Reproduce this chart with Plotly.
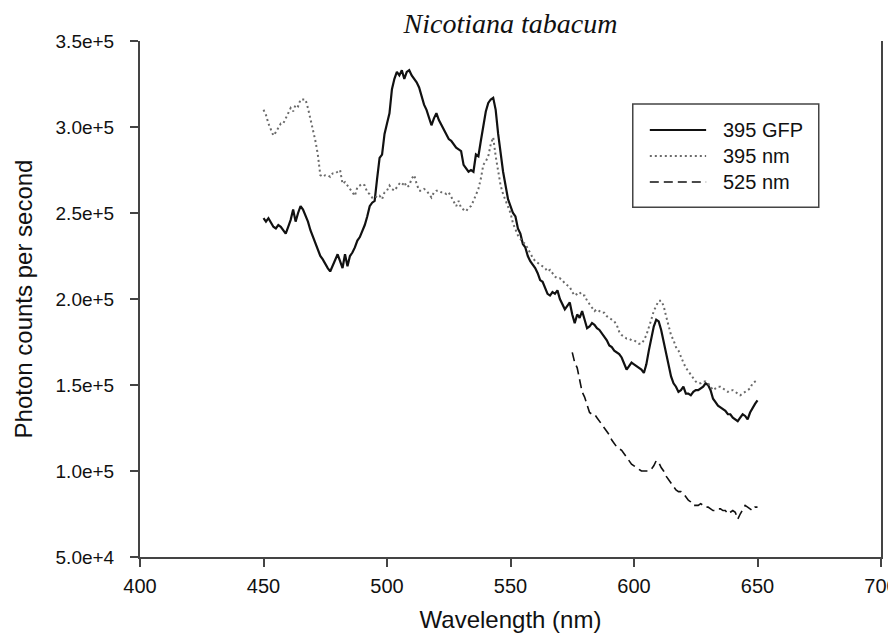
import plotly.graph_objects as go

# Wavelength grid (nm) of the two 395 nm excitation scans
wl_395 = [
    450, 451, 452, 453, 454, 455, 456, 457, 458, 459,
    460, 461, 462, 463, 464, 465, 466, 467, 468, 469,
    470, 471, 472, 473, 474, 475, 476, 477, 478, 479,
    480, 481, 482, 483, 484, 485, 486, 487, 488, 489,
    490, 491, 492, 493, 494, 495, 496, 497, 498, 499,
    500, 501, 502, 503, 504, 505, 506, 507, 508, 509,
    510, 511, 512, 513, 514, 515, 516, 517, 518, 519,
    520, 521, 522, 523, 524, 525, 526, 527, 528, 529,
    530, 531, 532, 533, 534, 535, 536, 537, 538, 539,
    540, 541, 542, 543, 544, 545, 546, 547, 548, 549,
    550, 551, 552, 553, 554, 555, 556, 557, 558, 559,
    560, 561, 562, 563, 564, 565, 566, 567, 568, 569,
    570, 571, 572, 573, 574, 575, 576, 577, 578, 579,
    580, 581, 582, 583, 584, 585, 586, 587, 588, 589,
    590, 591, 592, 593, 594, 595, 596, 597, 598, 599,
    600, 601, 602, 603, 604, 605, 606, 607, 608, 609,
    610, 611, 612, 613, 614, 615, 616, 617, 618, 619,
    620, 621, 622, 623, 624, 625, 626, 627, 628, 629,
    630, 631, 632, 633, 634, 635, 636, 637, 638, 639,
    640, 641, 642, 643, 644, 645, 646, 647, 648, 649,
    650,
]

# photon counts per second, in thousands
gfp_395_k = [
    247, 245, 247, 244, 242, 241, 243, 242, 240, 238,
    242, 246, 252, 245, 250, 254, 252, 249, 245, 240,
    236, 233, 228, 225, 223, 220, 218, 216, 219, 222,
    226, 222, 218, 226, 219, 225, 227, 230, 234, 236,
    239, 243, 248, 254, 256, 257, 270, 282, 284, 296,
    302, 308, 322, 328, 332, 330, 333, 328, 332, 333,
    330, 328, 326, 323, 318, 313, 310, 306, 301, 305,
    308, 304, 301, 299, 296, 293, 292, 290, 288, 287,
    286, 278, 276, 274, 275, 274, 284, 283, 292, 302,
    309, 314, 316, 317, 310, 296, 284, 274, 266, 258,
    254, 250, 248, 241, 238, 232, 230, 225, 222, 220,
    218, 215, 211, 210, 206, 203, 202, 204, 203, 205,
    200, 197, 194, 196, 198, 191, 186, 191, 189, 193,
    188, 183, 184, 186, 185, 183, 182, 180, 178, 176,
    173, 172, 170, 169, 168, 166, 163, 159, 161, 163,
    162, 161, 160, 159, 157, 162, 170, 177, 184, 188,
    187, 182, 175, 168, 161, 155, 151, 149, 146, 147,
    149, 145, 145, 144, 146, 147, 147, 148, 149, 151,
    150, 147, 142, 140, 138, 137, 136, 135, 133, 133,
    131, 130, 129, 131, 133, 132, 130, 134, 137, 139,
    141,
]

nm_395_k = [
    310, 307, 302, 298, 295, 297, 300, 302, 302, 305,
    307, 311, 309, 313, 312, 316, 316, 316, 311, 305,
    299, 292, 284, 272, 271, 272, 272, 271, 273, 273,
    274, 275, 267, 268, 266, 264, 262, 260, 265, 266,
    267, 266, 262, 261, 259, 260, 259, 260, 258, 262,
    263, 266, 264, 263, 265, 267, 266, 268, 265, 266,
    270, 272, 267, 263, 263, 264, 263, 261, 259, 262,
    263, 263, 262, 262, 261, 262, 259, 257, 254, 257,
    253, 252, 251, 253, 254, 257, 260, 264, 270, 278,
    280, 283, 290, 294, 283, 274, 266, 261, 257, 253,
    250, 244, 240, 237, 235, 233, 232, 229, 226, 224,
    222, 221, 220, 219, 218, 216, 217, 215, 213, 212,
    212, 211, 209, 208, 207, 204, 202, 203, 204, 202,
    202, 199, 197, 195, 193, 194, 193, 192, 192, 190,
    189, 188, 187, 185, 181, 179, 178, 177, 177, 176,
    176, 175, 174, 174, 176, 179, 183, 188, 193, 196,
    199, 199, 196, 190, 184, 179, 176, 172, 170, 166,
    163, 160, 158, 156, 154, 152, 151, 151, 152, 152,
    151, 149, 147, 148, 149, 149, 148, 147, 146, 147,
    147, 146, 145, 144, 145, 146, 147, 148, 151, 152,
    153,
]

# 525 nm excitation scan
wl_525 = [
    575, 576, 577, 578, 579,
    580, 581, 582, 583, 584, 585, 586, 587, 588, 589,
    590, 591, 592, 593, 594, 595, 596, 597, 598, 599,
    600, 601, 602, 603, 604, 605, 606, 607, 608, 609,
    610, 611, 612, 613, 614, 615, 616, 617, 618, 619,
    620, 621, 622, 623, 624, 625, 626, 627, 628, 629,
    630, 631, 632, 633, 634, 635, 636, 637, 638, 639,
    640, 641, 642, 643, 644, 645, 646, 647, 648, 649,
    650,
]
nm_525_k = [
    169, 163, 160, 152, 146,
    143, 139, 134, 133, 133, 131, 129, 127, 125, 123,
    121, 118, 116, 114, 113, 112, 110, 108, 106, 104,
    103, 102, 101, 100, 100, 100, 100, 101, 103, 106,
    105, 102, 100, 97, 95, 93, 91, 89, 88, 88,
    87, 85, 83, 82, 80, 80, 80, 81, 80, 79,
    79, 78, 77, 77, 78, 78, 77, 77, 75, 76,
    77, 76, 72, 75, 78, 80, 79, 78, 77, 79,
    79,
]

series_names = ["395 GFP", "395 nm", "525 nm"]
x_ticks = [400, 450, 500, 550, 600, 650, 700]
y_ticks = [50000, 100000, 150000, 200000, 250000, 300000, 350000]

SANS = "Liberation Sans, Arial, sans-serif"
SERIF = "Liberation Serif, Times New Roman, serif"

# line style per series (same order as series_names)
styles = [
    dict(color="#111111", width=2.2),
    dict(color="#6a6a6a", width=2, dash="2px,3px"),
    dict(color="#111111", width=1.6, dash="9px,5px"),
]

fig = go.Figure()
for wl, vals, name, st in zip(
        [wl_395, wl_395, wl_525],
        [gfp_395_k, nm_395_k, nm_525_k],
        series_names, styles):
    fig.add_trace(go.Scatter(
        x=wl, y=[v * 1000 for v in vals],
        mode="lines", name=name, line=st, showlegend=False
    ))

# Boxed legend drawn in paper coordinates (long line samples like the original)
fig.add_shape(type="rect", xref="paper", yref="paper",
              x0=0.665, x1=0.916, y0=0.678, y1=0.878,
              line=dict(color="#444444", width=1.5), fillcolor="white")
row_y = [0.8275, 0.7771, 0.7267]
for name, st, yy in zip(series_names, styles, row_y):
    fig.add_shape(type="line", xref="paper", yref="paper",
                  x0=0.688, x1=0.764, y0=yy, y1=yy, line=st)
    fig.add_annotation(text=name, xref="paper", yref="paper",
                       x=0.784, y=yy, xanchor="left", yanchor="middle",
                       showarrow=False,
                       font=dict(family=SANS, size=20, color="#111111"))

fig.update_layout(
    width=896,
    height=637,
    paper_bgcolor="white",
    plot_bgcolor="white",
    margin=dict(l=132, r=23, t=33, b=88),
    font=dict(family=SANS, color="#111111"),
    showlegend=False,
    title=dict(
        text="<i>Nicotiana tabacum</i>",
        font=dict(family=SERIF, size=28, color="#111111"),
        x=0.5, xref="paper", xanchor="center",
        y=1 - 15 / 637, yref="container", yanchor="middle"
    )
)

fig.update_xaxes(
    range=[400, 700], automargin=False,
    tickmode="array", tickvals=x_ticks,
    ticks="outside", ticklen=8, tickwidth=1.5, tickcolor="#444444",
    ticklabelstandoff=2,
    showline=True, linecolor="#444444", linewidth=2,
    showgrid=False, zeroline=False,
    tickfont=dict(family=SANS, size=20, color="#111111"),
    title=dict(text="Wavelength (nm)", standoff=15,
               font=dict(family=SANS, size=24, color="#111111"))
)
fig.update_yaxes(
    range=[50000, 350000], automargin=False,
    tickmode="array", tickvals=y_ticks, tickformat=".1e",
    ticks="outside", ticklen=8, tickwidth=1.5, tickcolor="#444444",
    ticklabelstandoff=12,
    showline=True, linecolor="#444444", linewidth=2, mirror=True,
    showgrid=False, zeroline=False,
    tickfont=dict(family=SANS, size=19, color="#111111"),
    title=dict(text="Photon counts per second", standoff=16,
               font=dict(family=SANS, size=24, color="#111111"))
)

fig.write_html("out.html")
